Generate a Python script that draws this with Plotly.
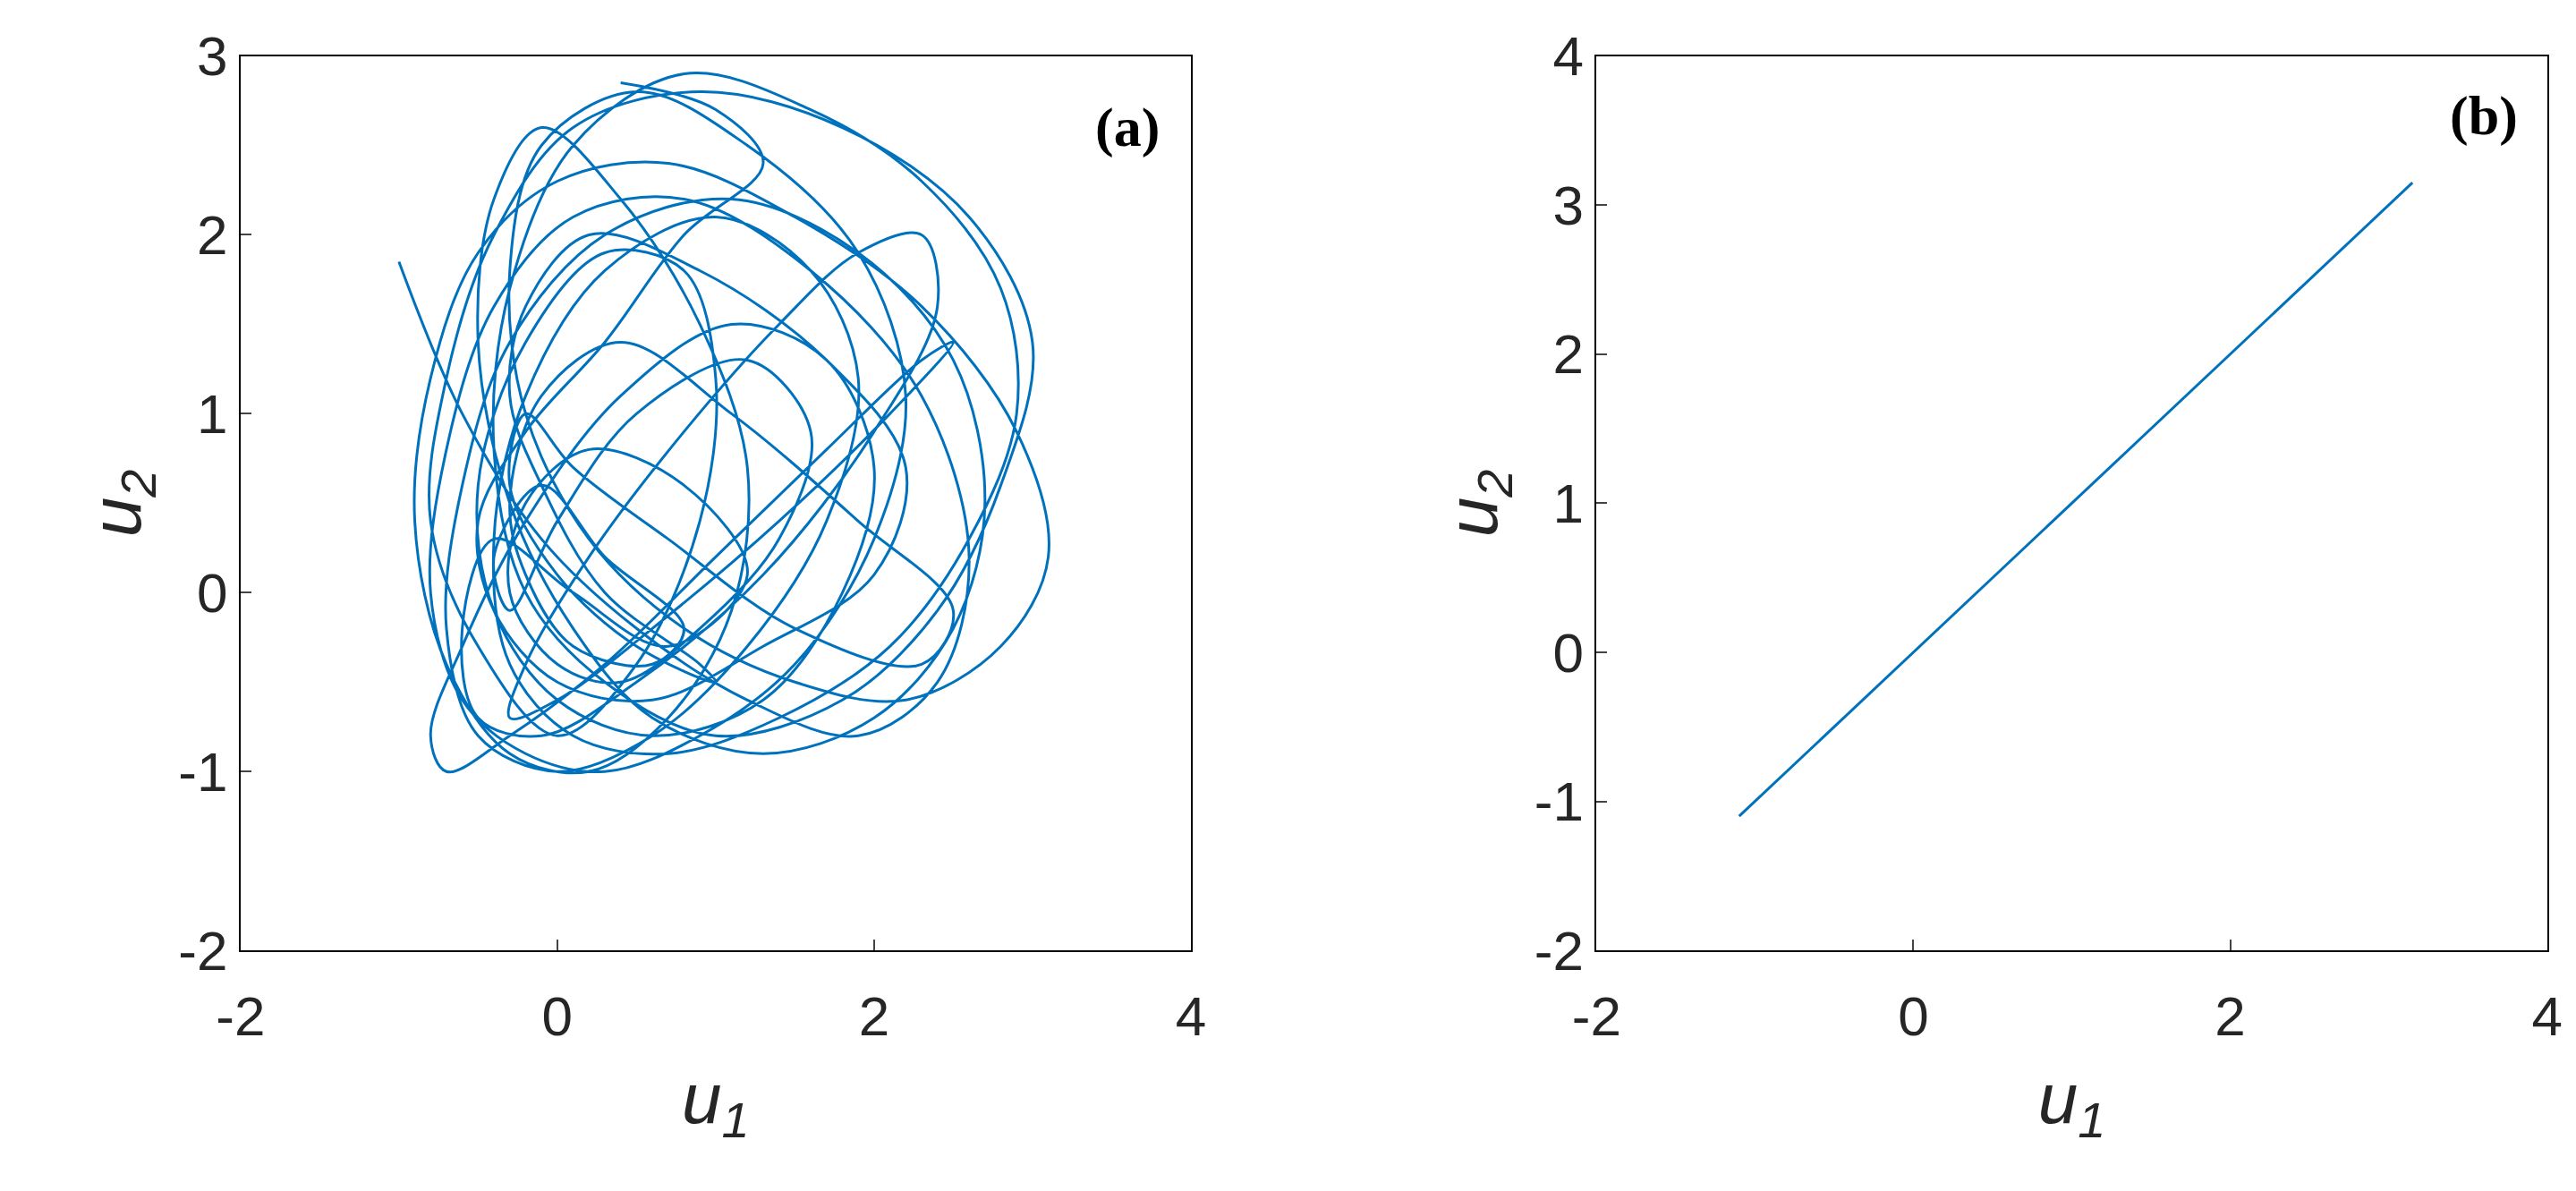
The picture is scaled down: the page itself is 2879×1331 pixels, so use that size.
import plotly.graph_objects as go
from plotly.subplots import make_subplots

# panel (a): hand-estimated waypoints along the tangled trajectory
u1_a = [-1.0, -0.6, -0.1, 0.5, 1.2, 1.9, 2.4, 2.6, 2.3, 1.6, 0.8, 0.1, -0.4, -0.7, -0.8, -0.6, -0.2, 0.3,
        0.9, 1.5, 2.0, 2.2, 1.9, 1.2, 0.5, -0.1, -0.3, -0.2, 0.2, 0.8, 1.5, 2.2, 2.8, 3.1, 2.9, 2.3, 1.5,
        0.7, 0.0, -0.5, -0.8, -0.9, -0.7, -0.3, 0.2, 0.7, 1.1, 1.2, 0.9, 0.4, -0.1, -0.4, -0.5, -0.3, 0.1,
        0.6, 1.3, 2.0, 2.5, 2.7, 2.5, 1.9, 1.1, 0.3, -0.3, -0.6, -0.7, -0.5, 0.0, 0.6, 1.2, 1.7, 1.9, 1.6,
        1.0, 0.3, -0.2, -0.4, -0.3, 0.1, 0.7, 1.4, 2.1, 2.6, 2.9, 2.8, 2.3, 1.6, 0.8, 0.1, -0.3, -0.4,
        -0.2, 0.3, 1.0, 1.8, 2.4, 2.8, 3.0, 2.6, 1.8, 0.9, 0.1, -0.4, -0.7, -0.8, -0.5, 0.0, 0.5, 0.9,
        1.0, 0.8, 0.3, -0.2, -0.5, -0.4, 0.0, 0.6, 1.3, 1.8, 2.0, 1.7, 1.1, 0.4, -0.2, -0.6, -0.8, -0.7,
        -0.3, 0.3, 1.0, 1.7, 2.3, 2.5, 2.1, 1.4, 0.6, 0.0, -0.3, -0.2, 0.2, 0.8, 1.4, 1.9, 2.3, 2.4, 2.0,
        1.3, 0.5, -0.1, -0.5, -0.6, -0.4, 0.1, 0.7, 1.2, 0.8, 0.2, -0.2, -0.3, 0.0, 0.4, 0.9, 1.4, 1.6,
        1.2, 0.5, 0.0, -0.3, -0.4, -0.1, 0.3, 0.8, 0.6, 0.1, -0.2, -0.3, -0.1, 0.4, 1.1, 1.9, 2.5, 2.3,
        1.5, 0.7, 0.1, -0.2, -0.3, 0.0, 0.5, 1.0, 0.9, 0.3, -0.1, -0.3, -0.2, 0.2, 0.9, 1.7, 2.2, 2.0,
        1.3, 0.6, 0.0, -0.4, -0.5, -0.2, 0.3, 0.8, 1.3, 1.0, 0.4, -0.1, -0.3, -0.1, 0.3, 0.8, 1.25]
u2_a = [1.85, 1.0, 0.3, -0.2, -0.6, -0.8, -0.5, 0.2, 1.1, 1.8, 2.2, 2.1, 1.6, 0.8, 0.0, -0.6, -0.9, -1.0,
        -0.8, -0.4, 0.3, 1.1, 1.9, 2.5, 2.8, 2.5, 1.8, 1.0, 0.3, -0.2, -0.5, -0.6, -0.3, 0.2, 0.9, 1.6,
        2.1, 2.4, 2.3, 1.9, 1.2, 0.4, -0.4, -0.9, -1.0, -0.7, -0.1, 0.7, 1.5, 2.2, 2.6, 2.2, 1.4, 0.5,
        -0.2, -0.7, -0.9, -0.7, -0.2, 0.5, 1.3, 1.9, 2.2, 2.0, 1.4, 0.6, -0.2, -0.8, -1.0, -0.8, -0.3,
        0.4, 1.2, 1.8, 2.1, 1.8, 1.1, 0.3, -0.4, -0.8, -0.9, -0.7, -0.3, 0.3, 1.0, 1.7, 2.3, 2.7, 2.9,
        2.5, 1.7, 0.8, 0.0, -0.5, -0.8, -0.6, -0.1, 0.6, 1.4, 2.1, 2.6, 2.8, 2.6, 2.0, 1.2, 0.4, -0.3,
        -0.8, -0.4, 0.4, 1.2, 1.8, 1.9, 1.4, 0.6, -0.1, -0.6, -0.8, -0.6, 0.0, 0.7, 1.3, 1.5, 1.1, 0.4,
        -0.3, -0.8, -1.0, -0.8, -0.4, 0.2, 0.8, 1.3, 1.4, 1.0, 0.4, -0.2, -0.6, -0.7, -0.4, 0.2, 0.9,
        1.5, 1.9, 2.0, 1.6, 0.9, 0.1, -0.5, -0.8, -0.7, -0.2, 0.3, 0.0, -0.3, 0.1, 0.6, 0.8, 0.5, 0.0,
        -0.4, -0.5, -0.2, 0.3, 0.9, 1.3, 1.0, 0.4, -0.1, 0.2, 0.6, 0.2, -0.2, -0.4, -0.3, 0.1, 0.5, 1.1,
        1.4, 1.0, 0.4, -0.1, -0.4, -0.2, 0.3, 0.7, 1.0, 0.6, 0.1, -0.3, -0.5, -0.4, 0.0, 0.6, 1.1, 1.6,
        2.0, 1.8, 1.3, 0.7, 0.1, -0.3, -0.6, -0.5, -0.1, 0.4, 0.9, 1.4, 2.0, 2.4, 2.7, 2.85]

# panel (b): straight segment
u1_b = [-1.1, 3.15]
u2_b = [-1.1, 3.15]

blue = "#0072BD"
fig = make_subplots(rows=1, cols=2)
fig.add_trace(go.Scatter(x=u1_a, y=u2_a, mode="lines", line=dict(color=blue, width=3, shape="spline")),
              row=1, col=1)
fig.add_trace(go.Scatter(x=u1_b, y=u2_b, mode="lines", line=dict(color=blue, width=3)), row=1, col=2)

ax = dict(showgrid=False, zeroline=False, showline=True, linecolor="black", linewidth=2, mirror=True,
          ticks="inside", ticklen=12, tickwidth=2, tickfont=dict(size=62, color="#262626"), automargin=False)
tf = dict(font=dict(size=80, color="#262626"))
xt = [-2, 0, 2, 4]
fig.update_xaxes(ax, range=[-2, 4], tickvals=xt, ticktext=[str(v) for v in xt], ticklabelstandoff=18,
                 title=dict(text="<i>u<sub>1</sub></i>", standoff=30, **tf))
fig.update_yaxes(ax)
ya = [-2, -1, 0, 1, 2, 3]
yb = [-2, -1, 0, 1, 2, 3, 4]
fig.update_yaxes(range=[-2, 3], tickvals=ya, ticktext=[str(v) for v in ya],
                 title=dict(text="<i>u<sub>2</sub></i>", **tf), row=1, col=1)
fig.update_yaxes(range=[-2, 4], tickvals=yb, ticktext=[str(v) for v in yb],
                 title=dict(text="<i>u<sub>2</sub></i>", **tf), row=1, col=2)
fig.update_xaxes(domain=[0.0906, 0.4595], row=1, col=1)
fig.update_xaxes(domain=[0.617, 0.986], row=1, col=2)
fig.update_yaxes(domain=[0.208, 0.959])

for ref, lab, y in [("", "(a)", 2.6), ("2", "(b)", 3.6)]:
    fig.add_annotation(x=3.6, y=y, xref="x" + ref, yref="y" + ref, text="<b>" + lab + "</b>",
                       showarrow=False, font=dict(family="Liberation Serif", size=62, color="black"))

fig.update_layout(width=2879, height=1331, showlegend=False, plot_bgcolor="white", paper_bgcolor="white",
                  font=dict(family="Liberation Sans"), margin=dict(l=0, r=0, t=0, b=0, autoexpand=False))
fig.write_html("out.html")
